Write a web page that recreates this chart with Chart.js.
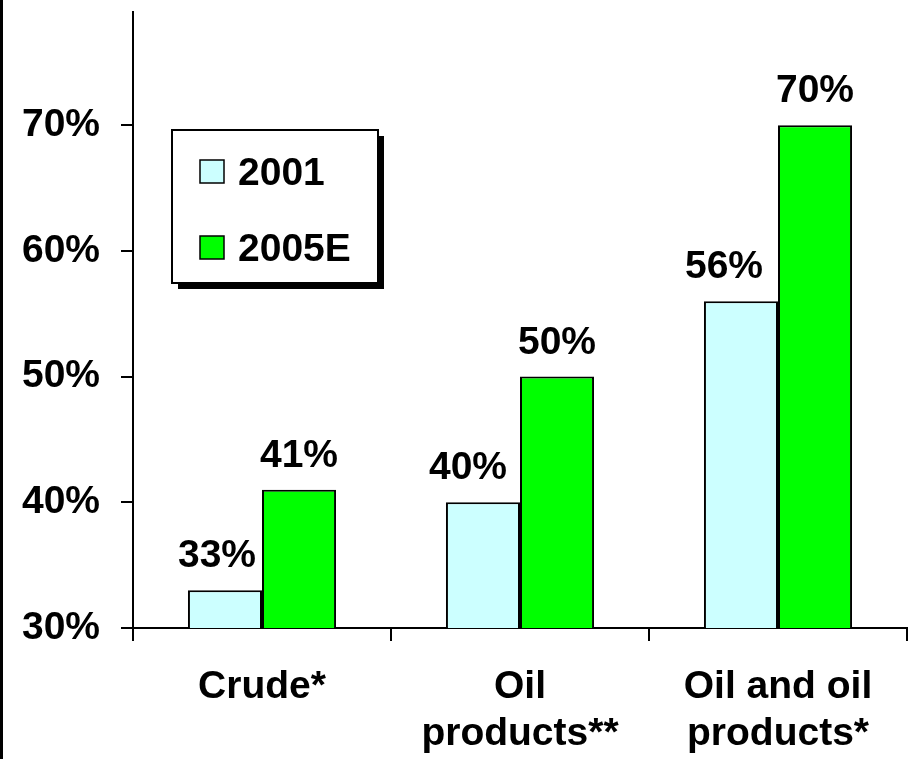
<!DOCTYPE html>
<html>
<head>
<meta charset="utf-8">
<script src="https://cdn.jsdelivr.net/npm/chart.js@4.4.1/dist/chart.umd.min.js"></script>
<style>
  html, body { margin: 0; padding: 0; background: #ffffff; overflow: hidden; }
  #wrap { width: 912px; height: 759px; }
</style>
</head>
<body>
<div id="wrap"><canvas id="c" width="912" height="759"></canvas></div>
<script>
// ---- Data ----
const categories = [["Crude*"], ["Oil", "products**"], ["Oil and oil", "products*"]];
const seriesNames = ["2001", "2005E"];
const values2001 = [33, 40, 56];
const values2005E = [41, 50, 70];
const yTickValues = [30, 40, 50, 60, 70];

// ---- Styles ----
const FONT_FAMILY = '"Liberation Sans", Arial, sans-serif';
const FONT_SIZE = 39;
const COLORS = ["#CCFFFF", "#00FF00"];
const LABEL_SHIFT_X = [[-8, -15, -17], [0, 0, 0]]; // horizontal nudges of value labels (layout only)

const frameLine = {
  id: 'frameLine',
  beforeDraw(chart) {
    const ctx = chart.ctx;
    ctx.save();
    ctx.fillStyle = '#ffffff';
    ctx.fillRect(0, 0, chart.width, chart.height);
    ctx.fillStyle = '#000000';
    ctx.fillRect(0, 0, 3, chart.height);
    ctx.restore();
  }
};

const valueLabels = {
  id: 'valueLabels',
  afterDatasetsDraw(chart) {
    const ctx = chart.ctx;
    ctx.save();
    ctx.font = 'bold ' + FONT_SIZE + 'px ' + FONT_FAMILY;
    ctx.fillStyle = '#000000';
    ctx.textAlign = 'center';
    ctx.textBaseline = 'alphabetic';
    chart.data.datasets.forEach((ds, di) => {
      const meta = chart.getDatasetMeta(di);
      meta.data.forEach((bar, i) => {
        ctx.fillText(ds.data[i] + '%', bar.x + LABEL_SHIFT_X[di][i], bar.y - 23);
      });
    });
    ctx.restore();
  }
};

const boxLegend = {
  id: 'boxLegend',
  afterDraw(chart) {
    const ctx = chart.ctx;
    const bx = 172, by = 130, bw = 206, bh = 153;
    ctx.save();
    ctx.fillStyle = '#000000';
    ctx.fillRect(bx + 6, by + 6, bw, bh);
    ctx.fillStyle = '#ffffff';
    ctx.fillRect(bx, by, bw, bh);
    ctx.strokeStyle = '#000000';
    ctx.lineWidth = 2;
    ctx.strokeRect(bx, by, bw, bh);
    ctx.font = 'bold ' + FONT_SIZE + 'px ' + FONT_FAMILY;
    ctx.textAlign = 'left';
    ctx.textBaseline = 'alphabetic';
    chart.data.datasets.forEach((ds, i) => {
      const sy = 160 + i * 76;
      ctx.fillStyle = ds.backgroundColor;
      ctx.fillRect(200, sy, 24, 23);
      ctx.lineWidth = 1.5;
      ctx.strokeStyle = '#000000';
      ctx.strokeRect(200, sy, 24, 23);
      ctx.fillStyle = '#000000';
      ctx.fillText(ds.label, 238, sy + 25);
    });
    ctx.restore();
  }
};

new Chart(document.getElementById('c'), {
  type: 'bar',
  data: {
    labels: categories,
    datasets: [
      { label: seriesNames[0], data: values2001, backgroundColor: COLORS[0], borderColor: '#000000', borderWidth: 2, borderSkipped: false },
      { label: seriesNames[1], data: values2005E, backgroundColor: COLORS[1], borderColor: '#000000', borderWidth: 2, borderSkipped: false }
    ]
  },
  options: {
    responsive: false,
    devicePixelRatio: 1,
    animation: false,
    layout: { padding: { top: 12, right: 5, left: 0, bottom: 0 } },
    datasets: { bar: { categoryPercentage: 0.574, barPercentage: 1.0 } },
    plugins: {
      legend: { display: false },
      tooltip: { enabled: false }
    },
    scales: {
      x: {
        offset: true,
        grid: { display: true, offset: true, drawOnChartArea: false, drawTicks: true, tickLength: 13, color: '#000000', lineWidth: 2 },
        border: { display: true, color: '#000000', width: 2 },
        ticks: {
          color: '#000000',
          font: { family: FONT_FAMILY, size: FONT_SIZE, weight: 'bold' },
          padding: 23,
          maxRotation: 0,
          autoSkip: false
        },
        afterFit(scale) { scale.height = 131; scale.paddingLeft = 0; scale.paddingRight = 0; }
      },
      y: {
        min: 30,
        max: 79,
        grid: { display: true, drawOnChartArea: false, drawTicks: true, tickLength: 12, color: '#000000', lineWidth: 2 },
        border: { display: true, color: '#000000', width: 2 },
        ticks: {
          stepSize: 10,
          color: '#000000',
          font: { family: FONT_FAMILY, size: FONT_SIZE, weight: 'bold' },
          padding: 21,
          callback: (v) => v + '%'
        },
        afterBuildTicks(scale) {
          scale.ticks = yTickValues.map(v => ({ value: v }));
        },
        afterFit(scale) { scale.width = 133; scale.paddingTop = 0; scale.paddingBottom = 0; }
      }
    }
  },
  plugins: [frameLine, valueLabels, boxLegend]
});
</script>
</body>
</html>
